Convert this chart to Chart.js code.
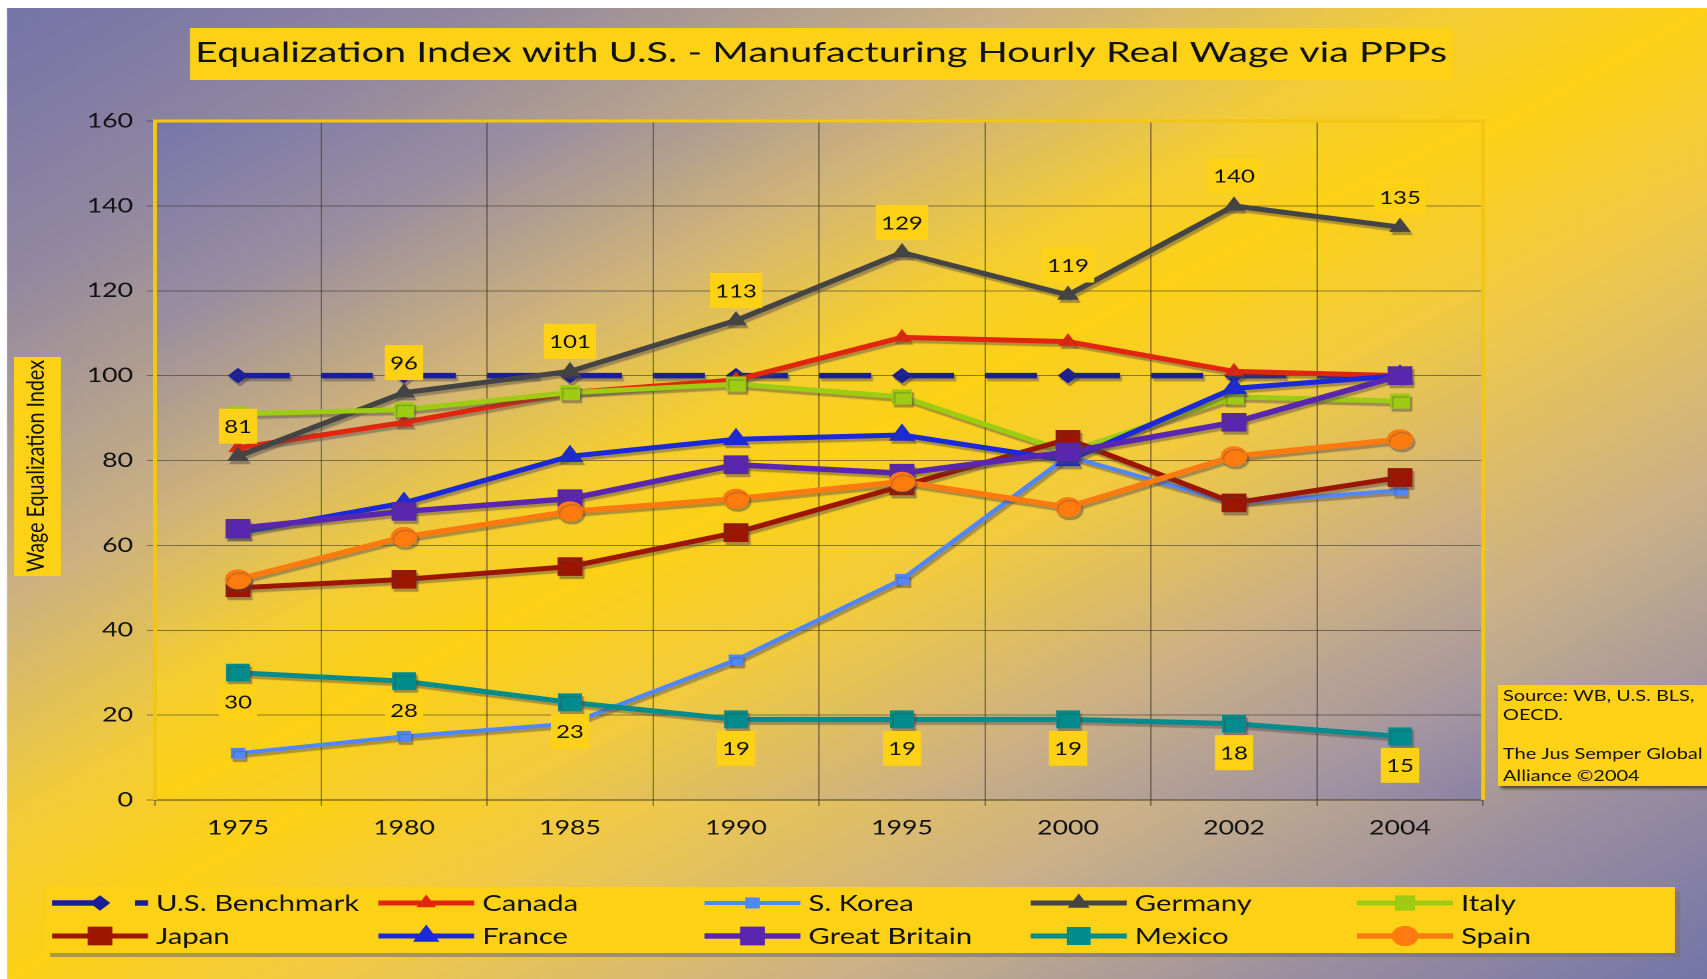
<!DOCTYPE html>
<html>
<head>
<meta charset="utf-8">
<title>Equalization Index with U.S.</title>
<script src="https://cdn.jsdelivr.net/npm/chart.js@4.4.1/dist/chart.umd.min.js"></script>
<style>
  html, body { margin: 0; padding: 0; background: #fff; overflow: hidden; }
  #wrap { position: absolute; left: 0; top: 0; height: 979px; transform-origin: 0 0; }
</style>
</head>
<body>
<div id="wrap"><canvas id="myChart"></canvas></div>
<script>
// Datos
const years = ["1975", "1980", "1985", "1990", "1995", "2000", "2002", "2004"];
const usBenchmark = [100, 100, 100, 100, 100, 100, 100, 100];
const canada = [83, 89, 96, 99, 109, 108, 101, 100];
const sKorea = [11, 15, 18, 33, 52, 81, 70, 73];
const germany = [81, 96, 101, 113, 129, 119, 140, 135];
const italy = [91, 92, 96, 98, 95, 82, 95, 94];
const japan = [50, 52, 55, 63, 74, 85, 70, 76];
const france = [63, 70, 81, 85, 86, 80, 97, 100];
const greatBritain = [64, 68, 71, 79, 77, 82, 89, 100];
const mexico = [30, 28, 23, 19, 19, 19, 18, 15];
const spain = [52, 62, 68, 71, 75, 69, 81, 85];
const yMin = 0, yMax = 160, yStep = 20;

const title = "Equalization Index with U.S. - Manufacturing Hourly Real Wage via PPPs";
const yTitle = "Wage Equalization Index";
const sourceLines = ["Source: WB, U.S. BLS,", "OECD.", "", "The Jus Semper Global", "Alliance \u00a92004"];

// La imagen original esta estirada en horizontal: dibujo mas estrecho y estiro el contenedor
const PAGE_W = 1707, PAGE_H = 979;
const CW = 1283;
const SX = PAGE_W / CW;
const wrap = document.getElementById("wrap");
wrap.style.width = CW + "px";
wrap.style.transform = "scaleX(" + SX + ")";
const px = v => v / SX;

const plot = { left: px(155), right: px(1483), top: 121, bottom: 800 };
const YELLOW = "#fcd116";

function serie(label, data, color, style, radius, width, extra) {
    return Object.assign({
        label: label,
        data: data,
        borderColor: color,
        backgroundColor: color,
        pointBorderColor: color,
        pointBackgroundColor: color,
        pointStyle: style,
        pointRadius: radius,
        pointHoverRadius: radius,
        pointBorderWidth: 1,
        borderWidth: width,
        tension: 0,
        fill: false
    }, extra || {});
}

const datasets = [
    serie("U.S. Benchmark", usBenchmark, "#1a1f96", "rectRot", 7, 5.5, { borderDash: [39, 23.4] }),
    serie("Canada", canada, "#e2260e", "triangle", 7.5, 5),
    serie("S. Korea", sKorea, "#5087ff", "rect", 7, 4),
    serie("Germany", germany, "#444444", "triangle", 8.5, 5, { labelPos: "above" }),
    serie("Italy", italy, "#9dcc12", "rect", 10, 5),
    serie("Japan", japan, "#9b1500", "rect", 12.5, 5),
    serie("France", france, "#1b2ad6", "triangle", 10.5, 5),
    serie("Great Britain", greatBritain, "#5a26b0", "rect", 12.5, 5.5),
    serie("Mexico", mexico, "#008c8c", "rect", 12, 5, { labelPos: "below" }),
    serie("Spain", spain, "#ff7b0f", "circle", 9.5, 5.5)
];
// como en Excel, la ultima serie queda encima
datasets.forEach((d, i) => { d.order = datasets.length - i; });

function diagGradient(ctx, x, y, w, h, stops) {
    const k = 2 * w * h / (w * w + h * h);
    const g = ctx.createLinearGradient(x, y, x + k * h, y + k * w);
    stops.forEach(s => g.addColorStop(s[0], s[1]));
    return g;
}

function stretchedText(ctx, txt, x, y, targetW) {
    const w = ctx.measureText(txt).width;
    ctx.save();
    ctx.translate(x, y);
    ctx.scale(targetW / w, 1);
    ctx.fillText(txt, 0, 0);
    ctx.restore();
}

function shadowBox(ctx, x, y, w, h, dx, dy, shadow) {
    ctx.fillStyle = shadow;
    ctx.fillRect(x + dx, y + dy, w, h);
    ctx.fillStyle = YELLOW;
    ctx.fillRect(x, y, w, h);
}

// Fondo, titulo, cajas y leyenda
const decorPlugin = {
    id: "decor",
    beforeDraw(chart) {
        const ctx = chart.ctx;
        const W = chart.width, H = chart.height;
        ctx.save();
        ctx.fillStyle = "#fff";
        ctx.fillRect(0, 0, W, H);
        const bx = px(7), by = 8;
        ctx.fillStyle = diagGradient(ctx, bx, by, W - bx, H - by, [
            [0, "#7573a8"], [0.14, "#9288a0"], [0.3, "#cbb182"], [0.42, "#f3cc38"],
            [0.5, "#fcd116"], [0.6, "#f0c94a"], [0.75, "#c9b08a"], [0.88, "#9a8ea0"], [1, "#7474a8"]
        ]);
        ctx.fillRect(bx, by, W - bx, H - by);

        // area del grafico
        const pw = plot.right - plot.left, ph = plot.bottom - plot.top;
        ctx.fillStyle = diagGradient(ctx, plot.left, plot.top, pw, ph, [
            [0, "#7776aa"], [0.15, "#9a8ea0"], [0.3, "#d2b578"], [0.42, "#f5ce30"],
            [0.5, "#fcd116"], [0.62, "#f2cb3e"], [0.78, "#cdb184"], [0.92, "#a596a0"], [1, "#8a82a6"]
        ]);
        ctx.fillRect(plot.left, plot.top, pw, ph);

        // titulo
        ctx.fillStyle = YELLOW;
        ctx.fillRect(px(190), 28, px(1453 - 190), 52);
        ctx.fillStyle = "#111";
        ctx.font = "28px Lato";
        ctx.textAlign = "center";
        ctx.textBaseline = "alphabetic";
        stretchedText(ctx, title, px(821), 62, px(1252));

        // titulo del eje Y
        ctx.fillStyle = YELLOW;
        ctx.fillRect(px(14), 357, px(61 - 14), 219);
        ctx.fillStyle = "#111";
        ctx.font = "18px Lato";
        ctx.save();
        ctx.translate(px(44), 466);
        ctx.rotate(-Math.PI / 2);
        stretchedText(ctx, yTitle, 0, 0, 212);
        ctx.restore();

        // fuente
        ctx.save();
        ctx.shadowColor = "rgba(40,35,40,0.75)";
        ctx.shadowBlur = 6;
        ctx.shadowOffsetX = 4;
        ctx.shadowOffsetY = 5;
        ctx.fillStyle = YELLOW;
        ctx.fillRect(px(1498), 685, W - px(1498) + 10, 101);
        ctx.restore();
        ctx.fillStyle = "#111";
        ctx.font = "15px Lato";
        ctx.textAlign = "left";
        const baselines = [701, 720, 740, 759, 781];
        sourceLines.forEach((l, i) => { if (l) ctx.fillText(l, px(1503), baselines[i]); });

        // leyenda
        shadowBox(ctx, px(45), 887, px(1675 - 45), 66, px(5), 4, "rgba(120,112,110,0.6)");
        const drawPoint = Chart.helpers.drawPoint;
        chart.data.datasets.forEach((ds, i) => {
            const col = i % 5, row = Math.floor(i / 5);
            const x0 = px(52) + col * px(326.25);
            const y = row ? 936 : 903;
            ctx.save();
            ctx.strokeStyle = ds.borderColor;
            ctx.lineWidth = ds.borderWidth;
            ctx.setLineDash(ds.borderDash || []);
            ctx.beginPath();
            ctx.moveTo(x0, y);
            ctx.lineTo(x0 + px(96), y);
            ctx.stroke();
            ctx.setLineDash([]);
            ctx.fillStyle = ds.backgroundColor;
            ctx.lineWidth = 1;
            drawPoint(ctx, { pointStyle: ds.pointStyle, radius: ds.pointRadius, rotation: 0, borderWidth: 1 }, x0 + px(48), y);
            ctx.restore();
            ctx.fillStyle = "#111";
            ctx.font = "22px Lato";
            ctx.textAlign = "left";
            ctx.textBaseline = "middle";
            ctx.fillText(ds.label, x0 + px(104), y + 1);
        });
        ctx.restore();
    },
    beforeDatasetsDraw(chart) {
        const ctx = chart.ctx, a = chart.chartArea;
        ctx.save();
        ctx.strokeStyle = "#f3c515";
        ctx.lineWidth = 3;
        ctx.beginPath();
        ctx.moveTo(a.left, a.bottom);
        ctx.lineTo(a.left, a.top);
        ctx.lineTo(a.right, a.top);
        ctx.lineTo(a.right, a.bottom);
        ctx.stroke();
        ctx.restore();
        // sombra de lineas y marcadores
        const r = chart.currentDevicePixelRatio;
        ctx.save();
        ctx.shadowColor = "rgba(80,70,70,0.45)";
        ctx.shadowOffsetX = 1.5 * r;
        ctx.shadowOffsetY = 3 * r;
        ctx.shadowBlur = 1 * r;
    },
    afterDatasetsDraw(chart) {
        const ctx = chart.ctx;
        ctx.restore();
        // etiquetas de Alemania y Mexico
        chart.data.datasets.forEach((ds, i) => {
            if (!ds.labelPos) return;
            const meta = chart.getDatasetMeta(i);
            meta.data.forEach((pt, j) => {
                const txt = String(ds.data[j]);
                ctx.font = "18px Lato";
                const w = ctx.measureText(txt).width + 8;
                const cy = pt.y + (ds.labelPos === "above" ? -30 : 29);
                ctx.fillStyle = YELLOW;
                ctx.fillRect(pt.x - w / 2, cy - 17.5, w, 35);
                ctx.fillStyle = "#111";
                ctx.textAlign = "center";
                ctx.textBaseline = "middle";
                ctx.fillText(txt, pt.x, cy + 1);
            });
        });
    }
};

Chart.defaults.font.family = "Lato, 'Noto Sans', sans-serif";
Chart.defaults.color = "#111";

const gridColor = "rgba(50,45,40,0.55)";

new Chart(document.getElementById("myChart"), {
    type: "line",
    data: { labels: years, datasets: datasets },
    options: {
        responsive: true,
        maintainAspectRatio: false,
        devicePixelRatio: 2,
        animation: false,
        events: [],
        layout: { padding: { top: plot.top, left: 0, bottom: 0, right: CW - plot.right } },
        plugins: { legend: { display: false }, title: { display: false }, tooltip: { enabled: false } },
        scales: {
            x: {
                offset: true,
                grid: { offset: true, color: gridColor, tickLength: 6, tickColor: gridColor },
                border: { display: true, color: "rgba(70,60,30,0.9)", width: 1 },
                ticks: { font: { size: 20 }, padding: 10, maxRotation: 0 },
                afterFit: s => { s.height = PAGE_H - plot.bottom; }
            },
            y: {
                min: yMin,
                max: yMax,
                grid: { color: gridColor, tickLength: 6, tickColor: gridColor },
                border: { display: false },
                ticks: { stepSize: yStep, font: { size: 20 }, padding: 10.5 },
                afterFit: s => { s.width = plot.left; }
            }
        }
    },
    plugins: [decorPlugin]
});
</script>
</body>
</html>
